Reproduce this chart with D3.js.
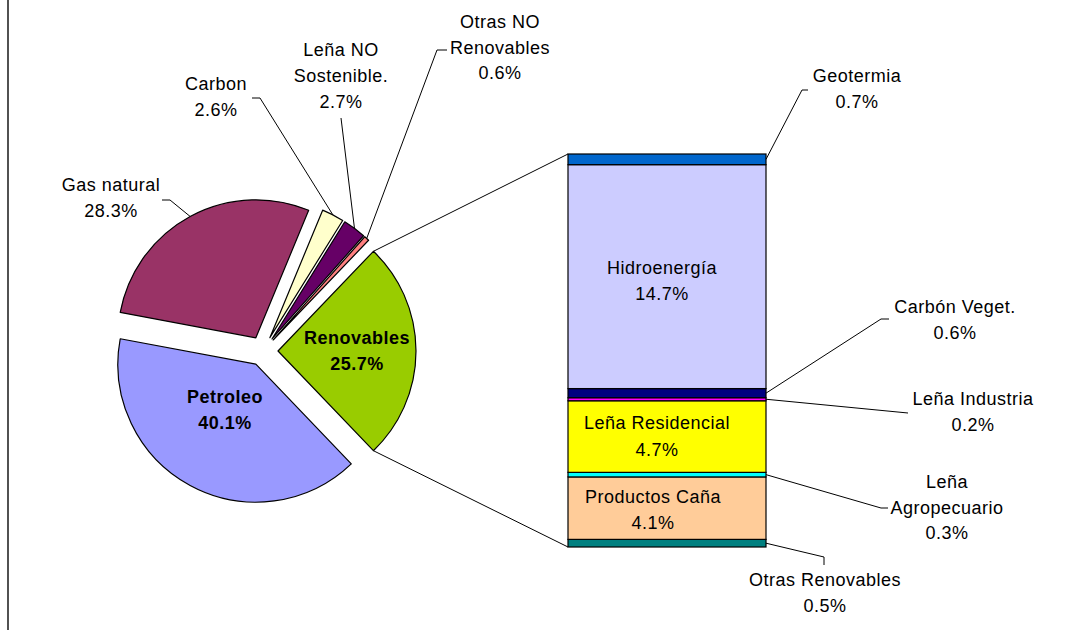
<!DOCTYPE html>
<html>
<head>
<meta charset="utf-8">
<script src="https://cdn.jsdelivr.net/npm/d3@7"></script>
<style>
html,body{margin:0;padding:0;background:#fff;}
svg{display:block;font-family:"Liberation Sans",Arial,sans-serif;}
</style>
</head>
<body>
<svg id="chart" width="1069" height="630"></svg>
<script>
// ---- data ----
const pieCategories = ["Renovables", "Petroleo", "Gas natural", "Carbon", "Leña NO Sostenible.", "Otras NO Renovables"];
const pieValues = [25.7, 40.1, 28.3, 2.6, 2.7, 0.6];
const pieColors = ["#99CC00", "#9999FF", "#993366", "#FFFFCC", "#660066", "#FF8080"];

const barCategories = ["Otras Renovables", "Productos Caña", "Leña Agropecuario", "Leña Residencial", "Leña Industria", "Carbón Veget.", "Hidroenergía", "Geotermia"];
const barValues = [0.5, 4.1, 0.3, 4.7, 0.2, 0.6, 14.7, 0.7];
const barColors = ["#008080", "#FFCC99", "#00FFFF", "#FFFF00", "#FF00FF", "#000080", "#CCCCFF", "#0066CC"];

// label text lines
const labelLines = {
  "Renovables": ["Renovables", "25.7%"],
  "Petroleo": ["Petroleo", "40.1%"],
  "Gas natural": ["Gas natural", "28.3%"],
  "Carbon": ["Carbon", "2.6%"],
  "Leña NO Sostenible.": ["Leña NO", "Sostenible.", "2.7%"],
  "Otras NO Renovables": ["Otras NO", "Renovables", "0.6%"],
  "Otras Renovables": ["Otras Renovables", "0.5%"],
  "Productos Caña": ["Productos Caña", "4.1%"],
  "Leña Agropecuario": ["Leña", "Agropecuario", "0.3%"],
  "Leña Residencial": ["Leña Residencial", "4.7%"],
  "Leña Industria": ["Leña Industria", "0.2%"],
  "Carbón Veget.": ["Carbón Veget.", "0.6%"],
  "Hidroenergía": ["Hidroenergía", "14.7%"],
  "Geotermia": ["Geotermia", "0.7%"]
};

// ---- layout ----
const W = 1069, H = 630;
const pieCx = 263, pieCy = 351, pieR = 138, explode = 15;
const barX0 = 568, barX1 = 766, barTop = 154, barBottom = 547;
const fontSize = 18, lineGap = 25.5;

// label anchor (center x, first-line center y), leader elbow points
const labelLayout = {
  "Renovables": {x: 357, y: 338, bold: true},
  "Petroleo": {x: 225, y: 397, bold: true},
  "Gas natural": {x: 111, y: 185, leader: [[162, 200], [170, 200]]},
  "Carbon": {x: 216, y: 84, leader: [[252, 98], [260, 98]]},
  "Leña NO Sostenible.": {x: 341, y: 50, gap: 26, leader: [[341, 118]]},
  "Otras NO Renovables": {x: 500, y: 22, leader: [[447, 50], [437, 50]]},
  "Geotermia": {x: 857, y: 76, gap: 26, leader: [[808, 90], [802, 90]]},
  "Hidroenergía": {x: 662, y: 268, gap: 26},
  "Carbón Veget.": {x: 955, y: 307, leader: [[889, 319], [881, 319]]},
  "Leña Industria": {x: 973, y: 399, gap: 26, leader: [[908, 413]]},
  "Leña Residencial": {x: 657, y: 423, gap: 27},
  "Leña Agropecuario": {x: 947, y: 482, leader: [[888, 508], [881, 508]]},
  "Productos Caña": {x: 653, y: 497, gap: 26},
  "Otras Renovables": {x: 825, y: 580, leader: [[824, 565], [824, 557]]}
};

const svg = d3.select("#chart");

// left border line
svg.append("line").attr("x1", 8).attr("x2", 8).attr("y1", 0).attr("y2", H)
  .attr("stroke", "#262626").attr("stroke-width", 1.6);

// ---- pie ----
const startDeg = 90 - (pieValues[0] / 100 * 360) / 2;
const pie = d3.pie().sort(null).value(d => d.v)
  .startAngle(startDeg * Math.PI / 180)
  .endAngle(startDeg * Math.PI / 180 + 2 * Math.PI);
const pieData = pie(pieCategories.map((c, i) => ({c, v: pieValues[i], color: pieColors[i]})));
const arc = d3.arc().innerRadius(0).outerRadius(pieR);

function sliceOffset(d) {
  const m = (d.startAngle + d.endAngle) / 2;
  return [explode * Math.sin(m), -explode * Math.cos(m)];
}
function polar(d, angle, r) {
  const o = sliceOffset(d);
  return [pieCx + o[0] + r * Math.sin(angle), pieCy + o[1] - r * Math.cos(angle)];
}

const pieG = svg.append("g");
pieG.selectAll("path").data(pieData).join("path")
  .attr("transform", d => { const o = sliceOffset(d); return `translate(${pieCx + o[0]},${pieCy + o[1]})`; })
  .attr("d", arc)
  .attr("fill", d => d.data.color)
  .attr("stroke", "#000").attr("stroke-width", 1.2).attr("stroke-linejoin", "round");

// ---- bar ----
const barTotal = d3.sum(barValues);
const y = d3.scaleLinear().domain([0, barTotal]).range([barBottom, barTop]);
let cum = 0;
const barData = barCategories.map((c, i) => {
  const d = {c, v: barValues[i], color: barColors[i], y0: cum, y1: cum + barValues[i]};
  cum += barValues[i];
  return d;
});
svg.append("g").selectAll("rect").data(barData).join("rect")
  .attr("x", barX0).attr("width", barX1 - barX0)
  .attr("y", d => y(d.y1)).attr("height", d => y(d.y0) - y(d.y1))
  .attr("fill", d => d.color)
  .attr("stroke", "#000").attr("stroke-width", 1.2);

// connector lines from Renovables slice to bar
const ren = pieData[0];
const pTop = polar(ren, ren.startAngle, pieR);
const pBot = polar(ren, ren.endAngle, pieR);
const connG = svg.append("g").attr("stroke", "#000").attr("stroke-width", 1);
connG.append("line").attr("x1", pTop[0]).attr("y1", pTop[1]).attr("x2", barX0).attr("y2", y(barTotal));
connG.append("line").attr("x1", pBot[0]).attr("y1", pBot[1]).attr("x2", barX0).attr("y2", y(0));

// ---- leader lines ----
const leaderG = svg.append("g").attr("fill", "none").attr("stroke", "#000").attr("stroke-width", 1);
pieData.forEach(d => {
  const L = labelLayout[d.data.c];
  if (!L.leader) return;
  const mid = (d.startAngle + d.endAngle) / 2;
  const pt = polar(d, mid, pieR);
  leaderG.append("path").attr("d", d3.line()([...L.leader, pt]));
});
barData.forEach(d => {
  const L = labelLayout[d.c];
  if (!L.leader) return;
  const pt = [barX1, y((d.y0 + d.y1) / 2)];
  leaderG.append("path").attr("d", d3.line()([...L.leader, pt]));
});

// ---- labels ----
const labelG = svg.append("g").attr("text-anchor", "middle").attr("font-size", fontSize).attr("fill", "#000");
Object.keys(labelLayout).forEach(k => {
  const L = labelLayout[k];
  const gap = L.gap || lineGap;
  const t = labelG.append("text")
    .attr("font-weight", L.bold ? "bold" : "normal")
    .attr("letter-spacing", 0.5);
  labelLines[k].forEach((s, i) => {
    t.append("tspan").attr("x", L.x).attr("y", L.y + i * gap).attr("dy", "0.35em").text(s);
  });
});
</script>
</body>
</html>
